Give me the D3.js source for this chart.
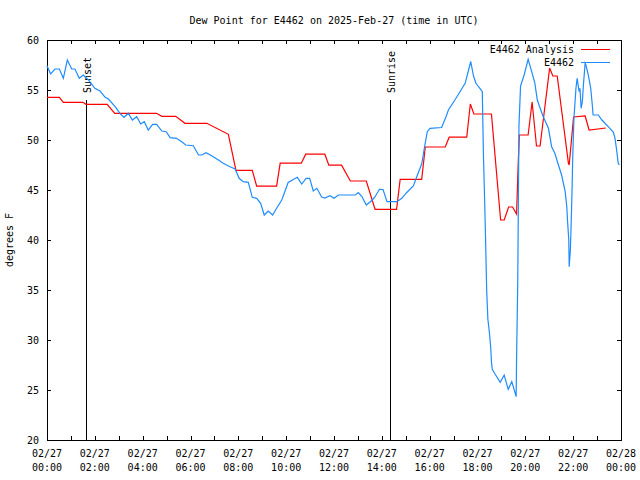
<!DOCTYPE html>
<html>
<head>
<meta charset="utf-8">
<script src="https://cdn.jsdelivr.net/npm/d3@7"></script>
<style>
  html, body { margin: 0; padding: 0; background: #fff; }
  svg { display: block; }
  text { font-family: "DejaVu Sans Mono", "Liberation Mono", monospace; font-size: 10px; fill: #000; }
</style>
</head>
<body>
<svg id="chart" width="640" height="480"></svg>
<script>
// ---------- DATA ----------
const chartTitle = "Dew Point for E4462 on 2025-Feb-27 (time in UTC)";
const yLabel = "degrees F";
const dayStart = "2025-02-27T00:00Z";
const dayEnd = "2025-02-28T00:00Z";
const yTicks = [20, 25, 30, 35, 40, 45, 50, 55, 60];
const seriesNames = ["E4462 Analysis", "E4462"];

// E4462 Analysis (red)
const analysisTimes = ["00:00","00:31","00:41","01:30","01:38","02:31","02:50","04:35","04:48","05:23",
  "05:46","06:41","07:35","07:54","08:35","08:46","09:36","09:45","10:38","10:49",
  "11:37","11:47","12:19","12:41","13:21","13:43","14:37","14:46","15:40","15:49",
  "16:39","16:49","17:33","17:42","17:51","18:35","18:58","19:07","19:18","19:28",
  "19:38","19:42","19:45","20:07","20:17","20:28","20:37","21:01","21:09","21:20",
  "21:48","21:50","22:01","22:30","22:40","23:22"];
const analysisValues = [54.27,54.27,53.77,53.77,53.57,53.57,52.67,52.67,52.37,52.37,
  51.67,51.67,50.57,46.97,46.97,45.38,45.38,47.68,47.68,48.58,
  48.58,47.48,47.48,45.9,45.9,43.07,43.07,46.07,46.07,49.3,
  49.3,50.28,50.28,53.6,52.6,52.6,42.0,42.0,43.3,43.3,
  42.6,47.5,50.5,50.5,53.8,49.4,49.4,57.2,56.4,56.4,
  47.7,47.5,52.3,52.4,51.0,51.2];

// E4462 observations (blue)
const obsTimes = ["00:00","00:09","00:20","00:31","00:41","00:51","01:02","01:10","01:21","01:31",
  "01:44","02:00","02:13","02:26","02:34","02:51","03:03","03:13","03:24","03:34",
  "03:45","03:55","04:04","04:14","04:25","04:35","04:48","04:59","05:09","05:25",
  "05:38","05:48","06:07","06:20","06:28","06:39","06:53","07:10","07:22","07:39",
  "07:52","08:02","08:12","08:25","08:35","08:46","08:56","09:05","09:15","09:26",
  "09:36","09:49","10:05","10:18","10:28","10:39","10:50","10:59","11:08","11:17",
  "11:29","11:37","11:50","12:00","12:11","12:53","13:01","13:10","13:21","13:35",
  "13:43","13:54","14:03","14:13","14:38","14:50","15:02","15:19","15:31","15:40",
  "15:48","15:54","16:01","16:30","16:41","16:47","17:04","17:16","17:29","17:37",
  "17:43","17:50","17:56","18:06","18:12","18:15","18:18","18:20","18:23","18:26",
  "18:30","18:33","18:35","18:37","18:44","18:57","19:07","19:17","19:26","19:37",
  "19:38","19:41","19:44","19:48","19:57","20:07","20:16","20:24","20:30","20:37",
  "20:45","20:58","21:06","21:14","21:23","21:31","21:40","21:44","21:46","21:49",
  "21:50","21:53","21:55","21:57","21:59","22:02","22:07","22:10","22:15","22:17",
  "22:20","22:23","22:26","22:30","22:32","22:38","22:44","22:48","22:50","23:03",
  "23:12","23:28","23:41","23:45","23:49","23:53","23:56"];
const obsValues = [57.43,56.6,57.1,57.1,56.17,58.0,57.1,57.1,56.17,56.5,
  56.0,55.17,54.9,54.27,54.1,53.33,52.67,52.27,52.67,52.0,
  52.33,51.6,51.83,51.0,51.57,51.57,50.9,50.83,50.23,50.17,
  49.83,49.5,49.43,48.5,48.5,48.73,48.43,48.0,47.67,47.33,
  47.1,46.17,45.83,45.77,44.27,44.17,43.67,42.5,42.9,42.5,
  43.17,44.0,45.75,46.05,46.27,45.6,46.17,46.17,44.9,45.17,
  44.3,44.2,44.43,44.17,44.5,44.5,44.75,44.35,43.5,43.95,
  44.33,45.07,45.05,43.83,43.83,44.17,44.73,45.4,46.67,47.6,
  49.5,50.83,51.17,51.25,52.33,53.0,54.05,54.83,55.67,56.9,
  57.85,56.4,55.67,55.17,54.83,48.33,43.83,40.5,35.0,32.1,
  30.67,29.33,27.83,27.07,26.6,25.77,26.5,25.07,25.83,24.33,
  28.0,35.9,51.4,55.4,56.5,58.07,56.83,55.67,54.0,53.2,
  52.33,51.17,49.33,48.67,47.5,46.5,44.83,43.33,41.83,40.0,
  37.33,39.0,41.67,44.67,48.5,52.17,55.17,56.17,54.83,55.17,
  53.17,53.83,55.67,57.67,57.5,56.5,55.17,53.5,52.5,52.5,
  52.0,51.33,50.77,50.17,49.0,47.67,47.5];

// Sun events
const sunEventNames = ["Sunset", "Sunrise"];
const sunEventTimes = ["01:38", "14:21"];
const sunEventTop = 54; // degrees F where the marker line starts

// ---------- CHART ----------
const svg = d3.select("#chart");
const W = 640, H = 480;
const m = { left: 47, right: 19, top: 40, bottom: 40 };
const x0 = m.left, x1 = W - m.right, y0 = H - m.bottom, y1 = m.top;

const t = s => new Date("2025-02-27T" + s + ":00Z");
const x = d3.scaleUtc().domain([new Date(dayStart), new Date(dayEnd)]).range([x0, x1]);
const y = d3.scaleLinear().domain([20, 60]).range([y0, y1]);

svg.append("rect").attr("width", W).attr("height", H).attr("fill", "#fff");

// Title
svg.append("text").attr("x", (x0 + x1) / 2).attr("y", 24)
  .attr("text-anchor", "middle").text(chartTitle);

// Y label
svg.append("text").attr("transform", `translate(13,${(y0 + y1) / 2}) rotate(-90)`)
  .attr("text-anchor", "middle").text(yLabel);

const hourTicks = d3.utcHour.every(1).range(new Date(dayStart), d3.utcHour.offset(new Date(dayEnd), 1));
const labelTicks = d3.utcHour.every(2).range(new Date(dayStart), d3.utcHour.offset(new Date(dayEnd), 1));
const fmtDate = d3.utcFormat("%m/%d"), fmtTime = d3.utcFormat("%H:%M");

// Bottom axis (inward ticks)
const axB = svg.append("g").attr("transform", `translate(0,${y0})`)
  .call(d3.axisBottom(x).tickValues(hourTicks).tickSize(-4).tickFormat(""));
// Top axis (mirror)
const axT = svg.append("g").attr("transform", `translate(0,${y1})`)
  .call(d3.axisTop(x).tickValues(hourTicks).tickSize(-4).tickFormat(""));
// Left axis
const axL = svg.append("g").attr("transform", `translate(${x0},0)`)
  .call(d3.axisLeft(y).tickValues(yTicks).tickSize(-4).tickFormat(""));
// Right axis
const axR = svg.append("g").attr("transform", `translate(${x1},0)`)
  .call(d3.axisRight(y).tickValues(yTicks).tickSize(-4).tickFormat(""));
[axB, axT, axL, axR].forEach(g => {
  g.select(".domain").remove();
  g.selectAll("line").attr("stroke", "#000").attr("shape-rendering", "crispEdges");
});

// X tick labels (two lines)
const xl = svg.append("g");
labelTicks.forEach(d => {
  const tx = xl.append("text").attr("x", x(d)).attr("y", y0 + 17).attr("text-anchor", "middle");
  tx.append("tspan").attr("x", x(d)).text(fmtDate(d));
  tx.append("tspan").attr("x", x(d)).attr("dy", 14).text(fmtTime(d));
});
// Y tick labels
yTicks.forEach(v => {
  svg.append("text").attr("x", x0 - 8).attr("y", y(v)).attr("dy", "0.35em")
    .attr("text-anchor", "end").text(v);
});

// Frame
svg.append("rect").attr("x", x0).attr("y", y1).attr("width", x1 - x0).attr("height", y0 - y1)
  .attr("fill", "none").attr("stroke", "#000").attr("shape-rendering", "crispEdges");

// Sun event markers
sunEventTimes.forEach((s, i) => {
  const px = Math.round(x(t(s))) + 0.5;
  svg.append("line").attr("x1", px).attr("x2", px).attr("y1", y(sunEventTop)).attr("y2", y0)
    .attr("stroke", "#000").attr("shape-rendering", "crispEdges");
  svg.append("text").attr("transform", `translate(${px + 1},${y(sunEventTop) - 7}) rotate(-90)`)
    .attr("dy", "0.35em").attr("text-anchor", "start").text(sunEventNames[i]);
});

// Lines
const line = d3.line().x(d => x(d[0])).y(d => y(d[1]));
const analysis = analysisTimes.map((s, i) => [t(s), analysisValues[i]]);
const obs = obsTimes.map((s, i) => [t(s), obsValues[i]]);
const colors = ["#ff0000", "#1e8cff"];

svg.append("path").datum(analysis).attr("d", line).attr("fill", "none")
  .attr("stroke", colors[0]).attr("stroke-width", 1.2);
svg.append("path").datum(obs).attr("d", line).attr("fill", "none")
  .attr("stroke", colors[1]).attr("stroke-width", 1.2);

// Legend
seriesNames.forEach((name, i) => {
  const ly = 49 + i * 13;
  svg.append("text").attr("x", 574).attr("y", ly).attr("dy", "0.35em")
    .attr("text-anchor", "end").text(name);
  svg.append("line").attr("x1", 581).attr("x2", 610).attr("y1", ly + 0.5).attr("y2", ly + 0.5)
    .attr("stroke", colors[i]).attr("stroke-width", 1.2).attr("shape-rendering", "crispEdges");
});
</script>
</body>
</html>
